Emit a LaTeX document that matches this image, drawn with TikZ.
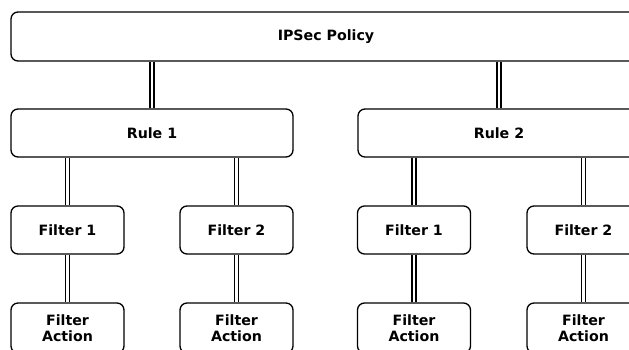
\documentclass[tikz,border=0pt]{standalone}
\usepackage{fontspec}
\setmainfont{DejaVu Sans}
\usetikzlibrary{positioning}

\begin{document}
\begin{tikzpicture}[x=1pt, y=-1pt,
				box/.style={draw=black, line width=1.3pt, rounded corners=7pt, fill=white,
					minimum height=48pt, inner sep=0pt, align=center,
					font=\fontsize{14.2}{16}\selectfont\bfseries},
				filterbox/.style={box, minimum width=113pt},
				link/.style={draw=black, double=white, line width=1.4pt, double distance=2.8pt}
				]
				\useasboundingbox (0,0) rectangle (629,350);
				\node[box, minimum width=630pt, minimum height=49pt] (policy) at (326,36.5) {IPSec Policy};
				\node[box, minimum width=282pt] (rule1) at (152,133) {Rule 1};
				\node[box, minimum width=282pt] (rule2) at (499,133) {Rule 2};
				\node[filterbox] (f11) at (67.5,230) {Filter 1};
				\node[filterbox] (f12) at (236.5,230) {Filter 2};
				\node[filterbox] (f21) at (414,230) {Filter 1};
				\node[filterbox] (f22) at (583.5,230) {Filter 2};
				\node[filterbox, minimum height=50pt] (a11) at (67.5,328) {Filter\\Action};
				\node[filterbox, minimum height=50pt] (a12) at (236.5,328) {Filter\\Action};
				\node[filterbox, minimum height=50pt] (a21) at (414,328) {Filter\\Action};
				\node[filterbox, minimum height=50pt] (a22) at (583.5,328) {Filter\\Action};
				\draw[link] (policy.south -| rule1.north) -- (rule1.north);
				\draw[link] (policy.south -| rule2.north) -- (rule2.north);
				\draw[link] (rule1.south -| f11.north) -- (f11.north);
				\draw[link] (rule1.south -| f12.north) -- (f12.north);
				\draw[link] (rule2.south -| f21.north) -- (f21.north);
				\draw[link] (rule2.south -| f22.north) -- (f22.north);
				\draw[link] (f11) -- (a11);
				\draw[link] (f12) -- (a12);
				\draw[link] (f21) -- (a21);
				\draw[link] (f22) -- (a22);
			\end{tikzpicture}
\end{document}
